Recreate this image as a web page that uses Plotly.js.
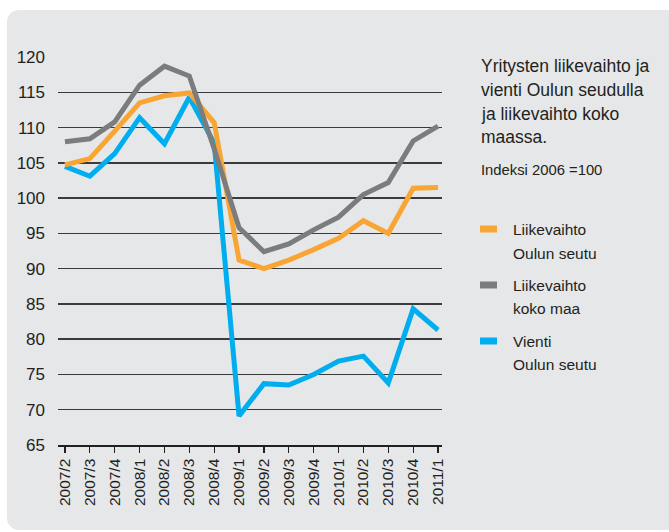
<!DOCTYPE html>
<html>
<head>
<meta charset="utf-8">
<script src="https://cdn.plot.ly/plotly-3.0.1.min.js"></script>
<style>
  html, body { margin: 0; padding: 0; background: #ffffff; }
  #bg { position: absolute; left: 7px; top: 10px; width: 672px; height: 520px; border-radius: 12px; background: #e6e7e9; }
  #chart { position: absolute; left: 0; top: 0; width: 669px; height: 532px; }
</style>
</head>
<body>
<div id="bg"></div>
<div id="chart"></div>
<script>
// ---- data ----
var quarters = ["2007/2","2007/3","2007/4","2008/1","2008/2","2008/3","2008/4",
                "2009/1","2009/2","2009/3","2009/4","2010/1","2010/2","2010/3","2010/4","2011/1"];
var liikevaihtoOulu = [104.7,105.6,109.5,113.5,114.5,114.9,110.7,91.2,90.0,91.2,92.7,94.3,96.8,95.0,101.4,101.5];
var liikevaihtoKokoMaa = [108.0,108.4,110.8,116.0,118.7,117.3,107.0,95.8,92.4,93.5,95.5,97.3,100.5,102.2,108.1,110.2];
var vientiOulu = [104.5,103.1,106.3,111.4,107.7,114.3,107.8,69.1,73.7,73.5,75.0,76.9,77.6,73.8,84.3,81.3];
var yTicks = [65,70,75,80,85,90,95,100,105,110,115,120];
var seriesNames = ["Liikevaihto<br>Oulun seutu", "Liikevaihto<br>koko maa", "Vienti<br>Oulun seutu"];
var titleLines = ["Yritysten liikevaihto ja", "vienti Oulun seudulla", "ja liikevaihto koko", "maassa."];
var subtitle = "Indeksi 2006 =100";

// ---- styles ----
var cOrange = "#f9a534", cGray = "#7b7c7e", cBlue = "#00adee";
var FONT = "'Liberation Sans', Arial, sans-serif";
var txt = "#231f20";

// plot area in pixels
var L = 58, R = 442, T = 57, B = 445, W = 669, H = 532;
function px(x) { return (x - L) / (R - L); }
function py(y) { return (B - y) / (B - T); }

var traces = [
  {x: quarters, y: vientiOulu, name: seriesNames[2], type: "scatter", mode: "lines",
   line: {color: cBlue, width: 5}, cliponaxis: false, showlegend: false},
  {x: quarters, y: liikevaihtoOulu, name: seriesNames[0], type: "scatter", mode: "lines",
   line: {color: cOrange, width: 5}, cliponaxis: false, showlegend: false},
  {x: quarters, y: liikevaihtoKokoMaa, name: seriesNames[1], type: "scatter", mode: "lines",
   line: {color: cGray, width: 5}, cliponaxis: false, showlegend: false}
];

var annotations = [];
var titleY = [66, 90, 114, 137];
titleLines.forEach(function (t, i) {
  annotations.push({xref: "paper", yref: "paper", x: px(479), y: py(titleY[i]), xanchor: "left", yanchor: "middle",
    text: t, showarrow: false, font: {family: FONT, size: 17.5, color: txt}});
});
annotations.push({xref: "paper", yref: "paper", x: px(479), y: py(170), xanchor: "left", yanchor: "middle",
  text: subtitle, showarrow: false, font: {family: FONT, size: 14.8, color: txt}});

var legendY = [[229, 253], [285, 308], [341, 364]];
var legendColors = [cOrange, cGray, cBlue];
var shapes = [];
seriesNames.forEach(function (n, i) {
  var parts = n.split("<br>");
  parts.forEach(function (p, j) {
    annotations.push({xref: "paper", yref: "paper", x: px(511), y: py(legendY[i][j]), xanchor: "left", yanchor: "middle",
      text: p, showarrow: false, font: {family: FONT, size: 15.5, color: txt}});
  });
  shapes.push({type: "rect", xref: "paper", yref: "paper", x0: px(480), x1: px(497),
    y0: py(legendY[i][0] - 3.5), y1: py(legendY[i][0] + 3.5), line: {width: 0}, fillcolor: legendColors[i]});
});

var layout = {
  width: W, height: H,
  margin: {l: L, r: W - R, t: T, b: H - B, pad: 0},
  paper_bgcolor: "rgba(0,0,0,0)",
  plot_bgcolor: "rgba(0,0,0,0)",
  showlegend: false,
  xaxis: {
    type: "category", range: [-0.28, 15.16],
    showgrid: false, zeroline: false,
    showline: true, linecolor: "#231f20", linewidth: 1.5,
    ticks: "outside", ticklen: 6, tickwidth: 1.3, tickcolor: "#231f20",
    tickangle: -90, tickfont: {family: FONT, size: 15.5, color: txt}
  },
  yaxis: {
    range: [65, 120], tickvals: yTicks, ticktext: yTicks.map(String),
    showgrid: true, gridcolor: "#3b3b3b", gridwidth: 1.4,
    zeroline: false, showline: false, ticks: "",
    ticklabelstandoff: 12,
    tickfont: {family: FONT, size: 17, color: txt}
  },
  annotations: annotations,
  shapes: shapes
};

Plotly.newPlot("chart", traces, layout, {displayModeBar: false, staticPlot: true});
</script>
</body>
</html>
